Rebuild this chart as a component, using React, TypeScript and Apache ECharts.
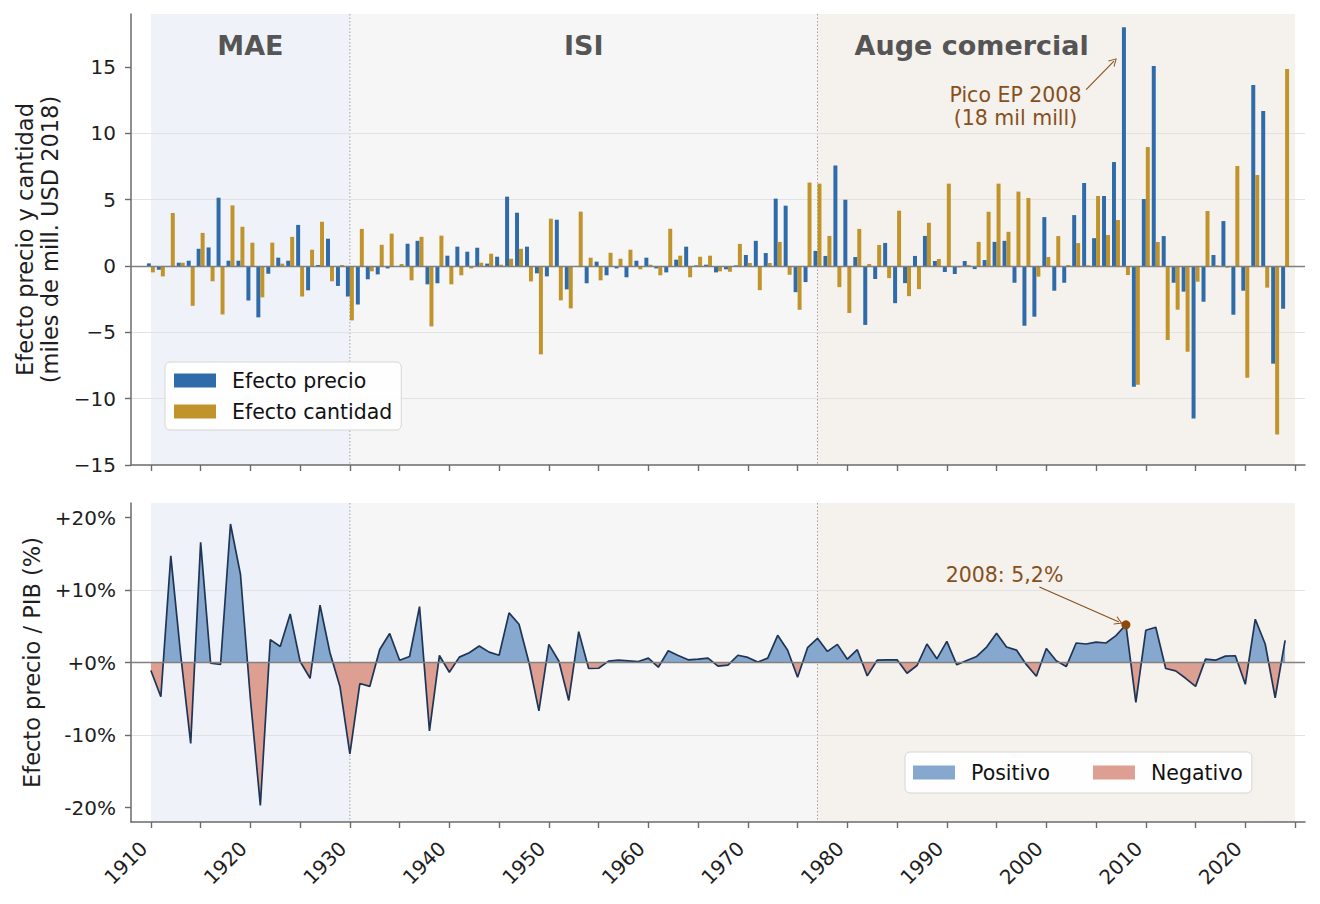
import { useEffect, useRef } from 'react';
import * as echarts from 'echarts';

const FONT = "'DejaVu Sans', 'Noto Sans', sans-serif";

// Años (categorías)
const anios: number[] = Array.from({ length: 115 }, (_, i) => 1910 + i);

// Efecto precio (miles de mill. USD 2018), 1910–2024
const efectoPrecio = [
  0.2, -0.28, 0.0, 0.25, 0.4, 1.3, 1.4, 5.15, 0.4, 0.4,
  -2.6, -3.87, -0.58, 0.63, 0.4, 3.1, -1.83, 0.08, 2.06, -1.5,
  -2.3, -2.9, -1.0, -0.63, -0.18, -0.05, 1.68, 1.9, -1.38, -1.3,
  0.78, 1.46, 1.08, 1.38, 0.18, 0.7, 5.23, 4.02, 1.46, -0.55,
  -0.78, 3.49, -1.76, 0.0, -1.3, 0.33, -0.7, -0.18, -0.85, 0.4,
  0.63, -0.18, -0.48, 0.48, 1.46, 0.05, 0.1, -0.48, -0.25, 0.05,
  0.83, 1.9, 0.98, 5.08, 4.55, -1.97, -1.21, 1.14, 0.76, 7.58,
  5.0, 0.68, -4.44, -0.98, 1.74, -2.8, -1.29, 0.76, 2.27, 0.38,
  -0.45, -0.6, 0.38, -0.23, 0.45, 1.82, 1.9, -1.26, -4.5, -3.82,
  3.69, -1.86, -1.26, 3.84, 6.26, 2.1, 5.28, 7.84, 18.0, -9.1,
  5.05, 15.08, 2.26, -1.26, -1.93, -11.5, -2.69, 0.83, 3.39, -3.67,
  -1.86, 13.64, 11.68, -7.36, -3.22,
];

// Efecto cantidad (miles de mill. USD 2018), 1910–2024
const efectoCantidad = [
  -0.48, -0.78, 4.0, 0.25, -3.0, 2.5, -1.15, -3.65, 4.57, 2.96,
  1.76, -2.36, 1.76, 0.18, 2.2, -2.3, 1.23, 3.34, -1.15, 0.08,
  -4.1, 2.8, -0.4, 1.6, 2.44, 0.15, -1.08, 2.2, -4.55, 2.29,
  -1.38, -0.7, -0.18, 0.25, 0.93, 0.1, 0.55, 1.3, -1.16, -6.66,
  3.57, -2.59, -3.19, 4.1, 0.63, -1.08, 1.0, 0.55, 1.23, -0.25,
  0.1, -0.7, 2.81, 0.78, -0.85, 0.7, 0.78, -0.4, -0.43, 1.67,
  0.23, -1.82, 0.23, 1.82, -0.66, -3.3, 6.29, 6.21, 2.27, -1.59,
  -3.54, 2.8, 0.15, 1.59, -0.91, 4.17, -2.27, -1.74, 3.26, 0.53,
  6.21, -0.1, 0.08, 1.82, 4.09, 6.21, 2.58, 5.61, 5.13, -0.8,
  0.68, 2.26, 0.08, 1.73, 0.05, 5.28, 2.34, 3.47, -0.68, -8.95,
  8.97, 1.81, -5.58, -3.29, -6.46, -1.18, 4.15, 0.05, -0.13, 7.54,
  -8.42, 6.86, -1.63, -12.7, 14.85,
];

// Efecto precio / PIB (%), 1910–2024
const efectoPrecioPIB = [
  -1.11, -4.72, 14.7, 1.0, -11.16, 16.57, -0.1, -0.28, 19.1, 12.2,
  -5.0, -19.7, 3.15, 2.2, 6.7, 0.14, -2.18, 7.9, 1.34, -3.3,
  -12.6, -2.9, -3.3, 1.8, 4.0, 0.32, 0.83, 7.7, -9.44, 0.97,
  -1.34, 0.74, 1.34, 2.27, 1.43, 1.0, 6.85, 5.28, 0.0, -6.67,
  2.5, 0.2, -5.23, 4.26, -0.83, -0.79, 0.19, 0.32, 0.23, 0.14,
  0.6, -0.65, 1.62, 0.97, 0.37, 0.46, 0.6, -0.51, -0.37, 1.0,
  0.7, 0.05, 0.6, 3.75, 1.7, -2.04, 2.04, 3.33, 1.53, 2.5,
  0.46, 1.76, -1.85, 0.32, 0.37, 0.37, -1.48, -0.42, 2.55, 0.51,
  2.92, -0.32, 0.28, 0.83, 2.13, 4.03, 2.13, 1.71, -0.3, -1.9,
  1.94, 0.23, -0.56, 2.69, 2.55, 2.82, 2.69, 3.7, 5.2, -5.5,
  4.44, 4.86, -0.83, -1.16, -2.18, -3.29, 0.46, 0.32, 0.88, 0.93,
  -3.0, 5.97, 2.55, -4.86, 3.06,
];

// Ejes
const ticksAnios = [1910, 1915, 1920, 1925, 1930, 1935, 1940, 1945, 1950, 1955, 1960, 1965,
  1970, 1975, 1980, 1985, 1990, 1995, 2000, 2005, 2010, 2015, 2020, 2025];
const etiquetasAnios = [1910, 1920, 1930, 1940, 1950, 1960, 1970, 1980, 1990, 2000, 2010, 2020];
const ticksSuperior = [-15, -10, -5, 0, 5, 10, 15];
const ticksInferior = [-20, -10, 0, 10, 20];

// Periodos
const periodos = [
  { nombre: 'MAE', inicio: 1910, fin: 1930 },
  { nombre: 'ISI', inicio: 1930, fin: 1977 },
  { nombre: 'Auge comercial', inicio: 1977, fin: 2025 },
];

const pico2008 = { anio: 2008, valor: 5.2 };

export default function App() {
  const ref = useRef<HTMLDivElement>(null);

  useEffect(() => {
    const chart = echarts.init(ref.current!, null, { renderer: 'svg' });

    const coloresPeriodo = ['#eff3f9', '#f6f6f6', '#f5f1ed'];
    const xEtiquetaPeriodo = [1920, 1953.5, 1992.5];
    const brown = '#86501c';
    const dotBrown = '#8a4a0c';
    const axisColor = '#6b6b6b';
    const textColor = '#1e1e1e';
    const chevron = 'path://M5,0L10,10L8.8,10L5,2.4L1.2,10L0,10Z';

    const renderPeriodo = (params: any, api: any) => {
      const i = params.dataIndex;
      const x0 = api.coord([api.value(0), 0])[0];
      const x1 = api.coord([api.value(1), 0])[0];
      const cs = params.coordSys;
      const children: any[] = [
        {
          type: 'rect',
          shape: { x: x0, y: cs.y, width: x1 - x0, height: cs.height },
          style: { fill: coloresPeriodo[i] },
        },
      ];
      if (i > 0) {
        children.push({
          type: 'line',
          shape: { x1: x0, y1: cs.y, x2: x0, y2: cs.y + cs.height },
          style: { stroke: '#a0a0a0', lineWidth: 1, lineDash: [1.5, 2] },
        });
      }
      return { type: 'group', children };
    };

    const periodosData = periodos.map((p) => [p.inicio, p.fin, 0]);

    const xAxisBase = (gridIndex: number, showLabels: boolean) => ({
      gridIndex,
      type: 'value',
      min: 1908,
      max: 2026,
      axisLine: { show: true, onZero: false, lineStyle: { color: axisColor, width: 1.5 } },
      axisTick: { show: true, customValues: ticksAnios, length: 6, lineStyle: { color: axisColor, width: 1.4 } },
      axisLabel: showLabels
        ? {
            show: true,
            customValues: etiquetasAnios,
            rotate: 45,
            align: 'right',
            verticalAlign: 'bottom',
            margin: 30,
            fontSize: 20,
            color: textColor,
            fontFamily: FONT,
            formatter: (v: number) => String(v),
          }
        : { show: false },
      splitLine: { show: false },
    });

    const option: any = {
      animation: false,
      backgroundColor: '#ffffff',
      textStyle: { fontFamily: FONT },
      grid: [
        { left: 131, top: 14, right: 15, height: 451 },
        { left: 131, top: 503, right: 15, height: 319 },
      ],
      xAxis: [xAxisBase(0, false), xAxisBase(1, true)],
      yAxis: [
        {
          gridIndex: 0,
          type: 'value',
          min: -15,
          max: 19,
          name: 'Efecto precio y cantidad\n(miles de mill. USD 2018)',
          nameLocation: 'middle',
          nameGap: 67,
          nameTextStyle: { fontSize: 22.5, color: textColor, lineHeight: 25, fontFamily: FONT },
          axisLine: { show: true, lineStyle: { color: axisColor, width: 1.5 } },
          axisTick: { show: true, customValues: ticksSuperior, length: 6, lineStyle: { color: axisColor, width: 1.4 } },
          axisLabel: {
            customValues: ticksSuperior,
            margin: 15,
            fontSize: 20,
            color: textColor,
            fontFamily: FONT,
            formatter: (v: number) => (v % 5 !== 0 ? '' : v < 0 ? '\u2212' + Math.abs(v) : String(v)),
          },
          splitLine: { show: true, showMinLine: false, showMaxLine: false, lineStyle: { color: '#e2e2e2', width: 1 } },
        },
        {
          gridIndex: 1,
          type: 'value',
          min: -22,
          max: 22,
          name: 'Efecto precio / PIB (%)',
          nameLocation: 'middle',
          nameGap: 85,
          nameTextStyle: { fontSize: 22.5, color: textColor, fontFamily: FONT },
          axisLine: { show: true, lineStyle: { color: axisColor, width: 1.5 } },
          axisTick: { show: true, customValues: ticksInferior, length: 6, lineStyle: { color: axisColor, width: 1.4 } },
          axisLabel: {
            customValues: ticksInferior,
            margin: 15,
            fontSize: 20,
            color: textColor,
            fontFamily: FONT,
            formatter: (v: number) => (v % 10 !== 0 ? '' : (v >= 0 ? '+' : '') + v + '%'),
          },
          splitLine: { show: true, showMinLine: false, showMaxLine: false, lineStyle: { color: '#e2e2e2', width: 1 } },
        },
      ],
      legend: [
        {
          left: 165,
          top: 362,
          orient: 'vertical',
          padding: [8, 9, 8, 9],
          itemGap: 10,
          itemWidth: 42,
          itemHeight: 14,
          backgroundColor: 'rgba(255,255,255,0.9)',
          borderColor: '#d6d6d6',
          borderWidth: 1,
          borderRadius: 5,
          selectedMode: false,
          textStyle: { fontSize: 20.5, color: '#111', fontFamily: FONT, padding: [0, 0, 0, 11] },
          data: [
            { name: 'Efecto precio', icon: 'rect' },
            { name: 'Efecto cantidad', icon: 'rect' },
          ],
        },
        {
          left: 905,
          top: 752,
          orient: 'horizontal',
          padding: [10, 9, 10, 8],
          itemGap: 43,
          itemWidth: 42,
          itemHeight: 14,
          backgroundColor: 'rgba(255,255,255,0.9)',
          borderColor: '#d6d6d6',
          borderWidth: 1,
          borderRadius: 5,
          selectedMode: false,
          textStyle: { fontSize: 20.5, color: '#111', fontFamily: FONT, padding: [0, 0, 0, 11] },
          data: [
            { name: 'Positivo', icon: 'rect' },
            { name: 'Negativo', icon: 'rect' },
          ],
        },
      ],
      visualMap: {
        type: 'piecewise',
        show: false,
        seriesIndex: 5,
        dimension: 1,
        pieces: [
          { gt: -100, lte: 0, color: '#dc9f91' },
          { gt: 0, lte: 100, color: '#87a8ce' },
        ],
        outOfRange: { color: '#999999' },
      },
      series: [
        {
          type: 'custom',
          name: 'periodos-sup',
          xAxisIndex: 0,
          yAxisIndex: 0,
          z: -1,
          silent: true,
          renderItem: renderPeriodo,
          encode: { x: [0, 1], y: 2 },
          data: periodosData,
        },
        {
          type: 'custom',
          name: 'periodos-inf',
          xAxisIndex: 1,
          yAxisIndex: 1,
          z: -1,
          silent: true,
          renderItem: renderPeriodo,
          encode: { x: [0, 1], y: 2 },
          data: periodosData,
        },
        {
          type: 'bar',
          name: 'Efecto precio',
          xAxisIndex: 0,
          yAxisIndex: 0,
          barWidth: '40%',
          barGap: '0%',
          itemStyle: { color: '#2e6ba8' },
          data: anios.map((a, i) => [a, efectoPrecio[i]]),
          markLine: {
            silent: true,
            symbol: 'none',
            label: { show: false },
            lineStyle: { color: '#808080', width: 1.3, type: 'solid' },
            data: [{ yAxis: 0 }],
          },
        },
        {
          type: 'bar',
          name: 'Efecto cantidad',
          xAxisIndex: 0,
          yAxisIndex: 0,
          barWidth: '40%',
          barGap: '0%',
          itemStyle: { color: '#c1932b' },
          data: anios.map((a, i) => [a, efectoCantidad[i]]),
        },
        {
          type: 'scatter',
          name: 'etiquetas-sup',
          xAxisIndex: 0,
          yAxisIndex: 0,
          symbolSize: 1,
          silent: true,
          itemStyle: { color: 'rgba(0,0,0,0)', opacity: 1 },
          z: 6,
          data: [
            ...periodos.map((p, i) => ({
              name: p.nombre,
              value: [xEtiquetaPeriodo[i], 16.6],
              label: { show: true, position: 'inside', formatter: '{b}', fontSize: 27, fontWeight: 'bold', color: '#555555', fontFamily: FONT },
            })),
            {
              name: 'Pico EP 2008\n(18 mil mill)',
              value: [1996.9, 12.0],
              label: { show: true, position: 'inside', formatter: '{b}', fontSize: 20.5, lineHeight: 23, color: brown, fontFamily: FONT, align: 'center' },
            },
          ],
          markLine: {
            silent: true,
            symbol: ['none', chevron],
            symbolSize: [9, 8],
            label: { show: false },
            lineStyle: { color: brown, width: 1.1, type: 'solid' },
            data: [[{ coord: [2004.0, 13.3] }, { coord: [2006.8, 15.45] }]],
          },
        },
        {
          type: 'line',
          name: 'area',
          xAxisIndex: 1,
          yAxisIndex: 1,
          symbol: 'none',
          silent: true,
          lineStyle: { width: 0, opacity: 0 },
          areaStyle: { opacity: 1 },
          z: 2,
          data: anios.map((a, i) => [a, efectoPrecioPIB[i]]),
          markLine: {
            silent: true,
            symbol: 'none',
            label: { show: false },
            lineStyle: { color: '#808080', width: 1.3, type: 'solid' },
            data: [{ yAxis: 0 }],
          },
        },
        {
          type: 'line',
          name: 'Efecto precio / PIB',
          xAxisIndex: 1,
          yAxisIndex: 1,
          symbol: 'none',
          silent: true,
          z: 4,
          lineStyle: { color: '#1e3556', width: 1.7 },
          data: anios.map((a, i) => [a, efectoPrecioPIB[i]]),
          markPoint: {
            silent: true,
            label: { show: false },
            data: [
              {
                coord: [pico2008.anio, pico2008.valor],
                symbol: 'circle',
                symbolSize: 9,
                itemStyle: { color: dotBrown },
              },
            ],
          },
        },
        {
          type: 'scatter',
          name: 'etiquetas-inf',
          xAxisIndex: 1,
          yAxisIndex: 1,
          symbolSize: 1,
          silent: true,
          itemStyle: { color: 'rgba(0,0,0,0)', opacity: 1 },
          z: 6,
          data: [
            {
              name: '2008: 5,2%',
              value: [1995.8, 12.1],
              label: { show: true, position: 'inside', formatter: '{b}', fontSize: 20.5, color: brown, fontFamily: FONT },
            },
          ],
          markLine: {
            silent: true,
            symbol: ['none', chevron],
            symbolSize: [9, 8],
            label: { show: false },
            lineStyle: { color: brown, width: 1.1, type: 'solid' },
            data: [[{ coord: [1999.3, 10.4] }, { coord: [2007.3, 5.6] }]],
          },
        },
        {
          type: 'bar',
          name: 'Positivo',
          xAxisIndex: 1,
          yAxisIndex: 1,
          itemStyle: { color: '#87a8ce' },
          data: [],
        },
        {
          type: 'bar',
          name: 'Negativo',
          xAxisIndex: 1,
          yAxisIndex: 1,
          itemStyle: { color: '#dc9f91' },
          data: [],
        },
      ],
    };

    chart.setOption(option);
    return () => chart.dispose();
  }, []);

  return (
    <div
      ref={ref}
      style={{ position: 'absolute', left: 0, top: 0, width: 1320, height: 904 }}
    />
  );
}
